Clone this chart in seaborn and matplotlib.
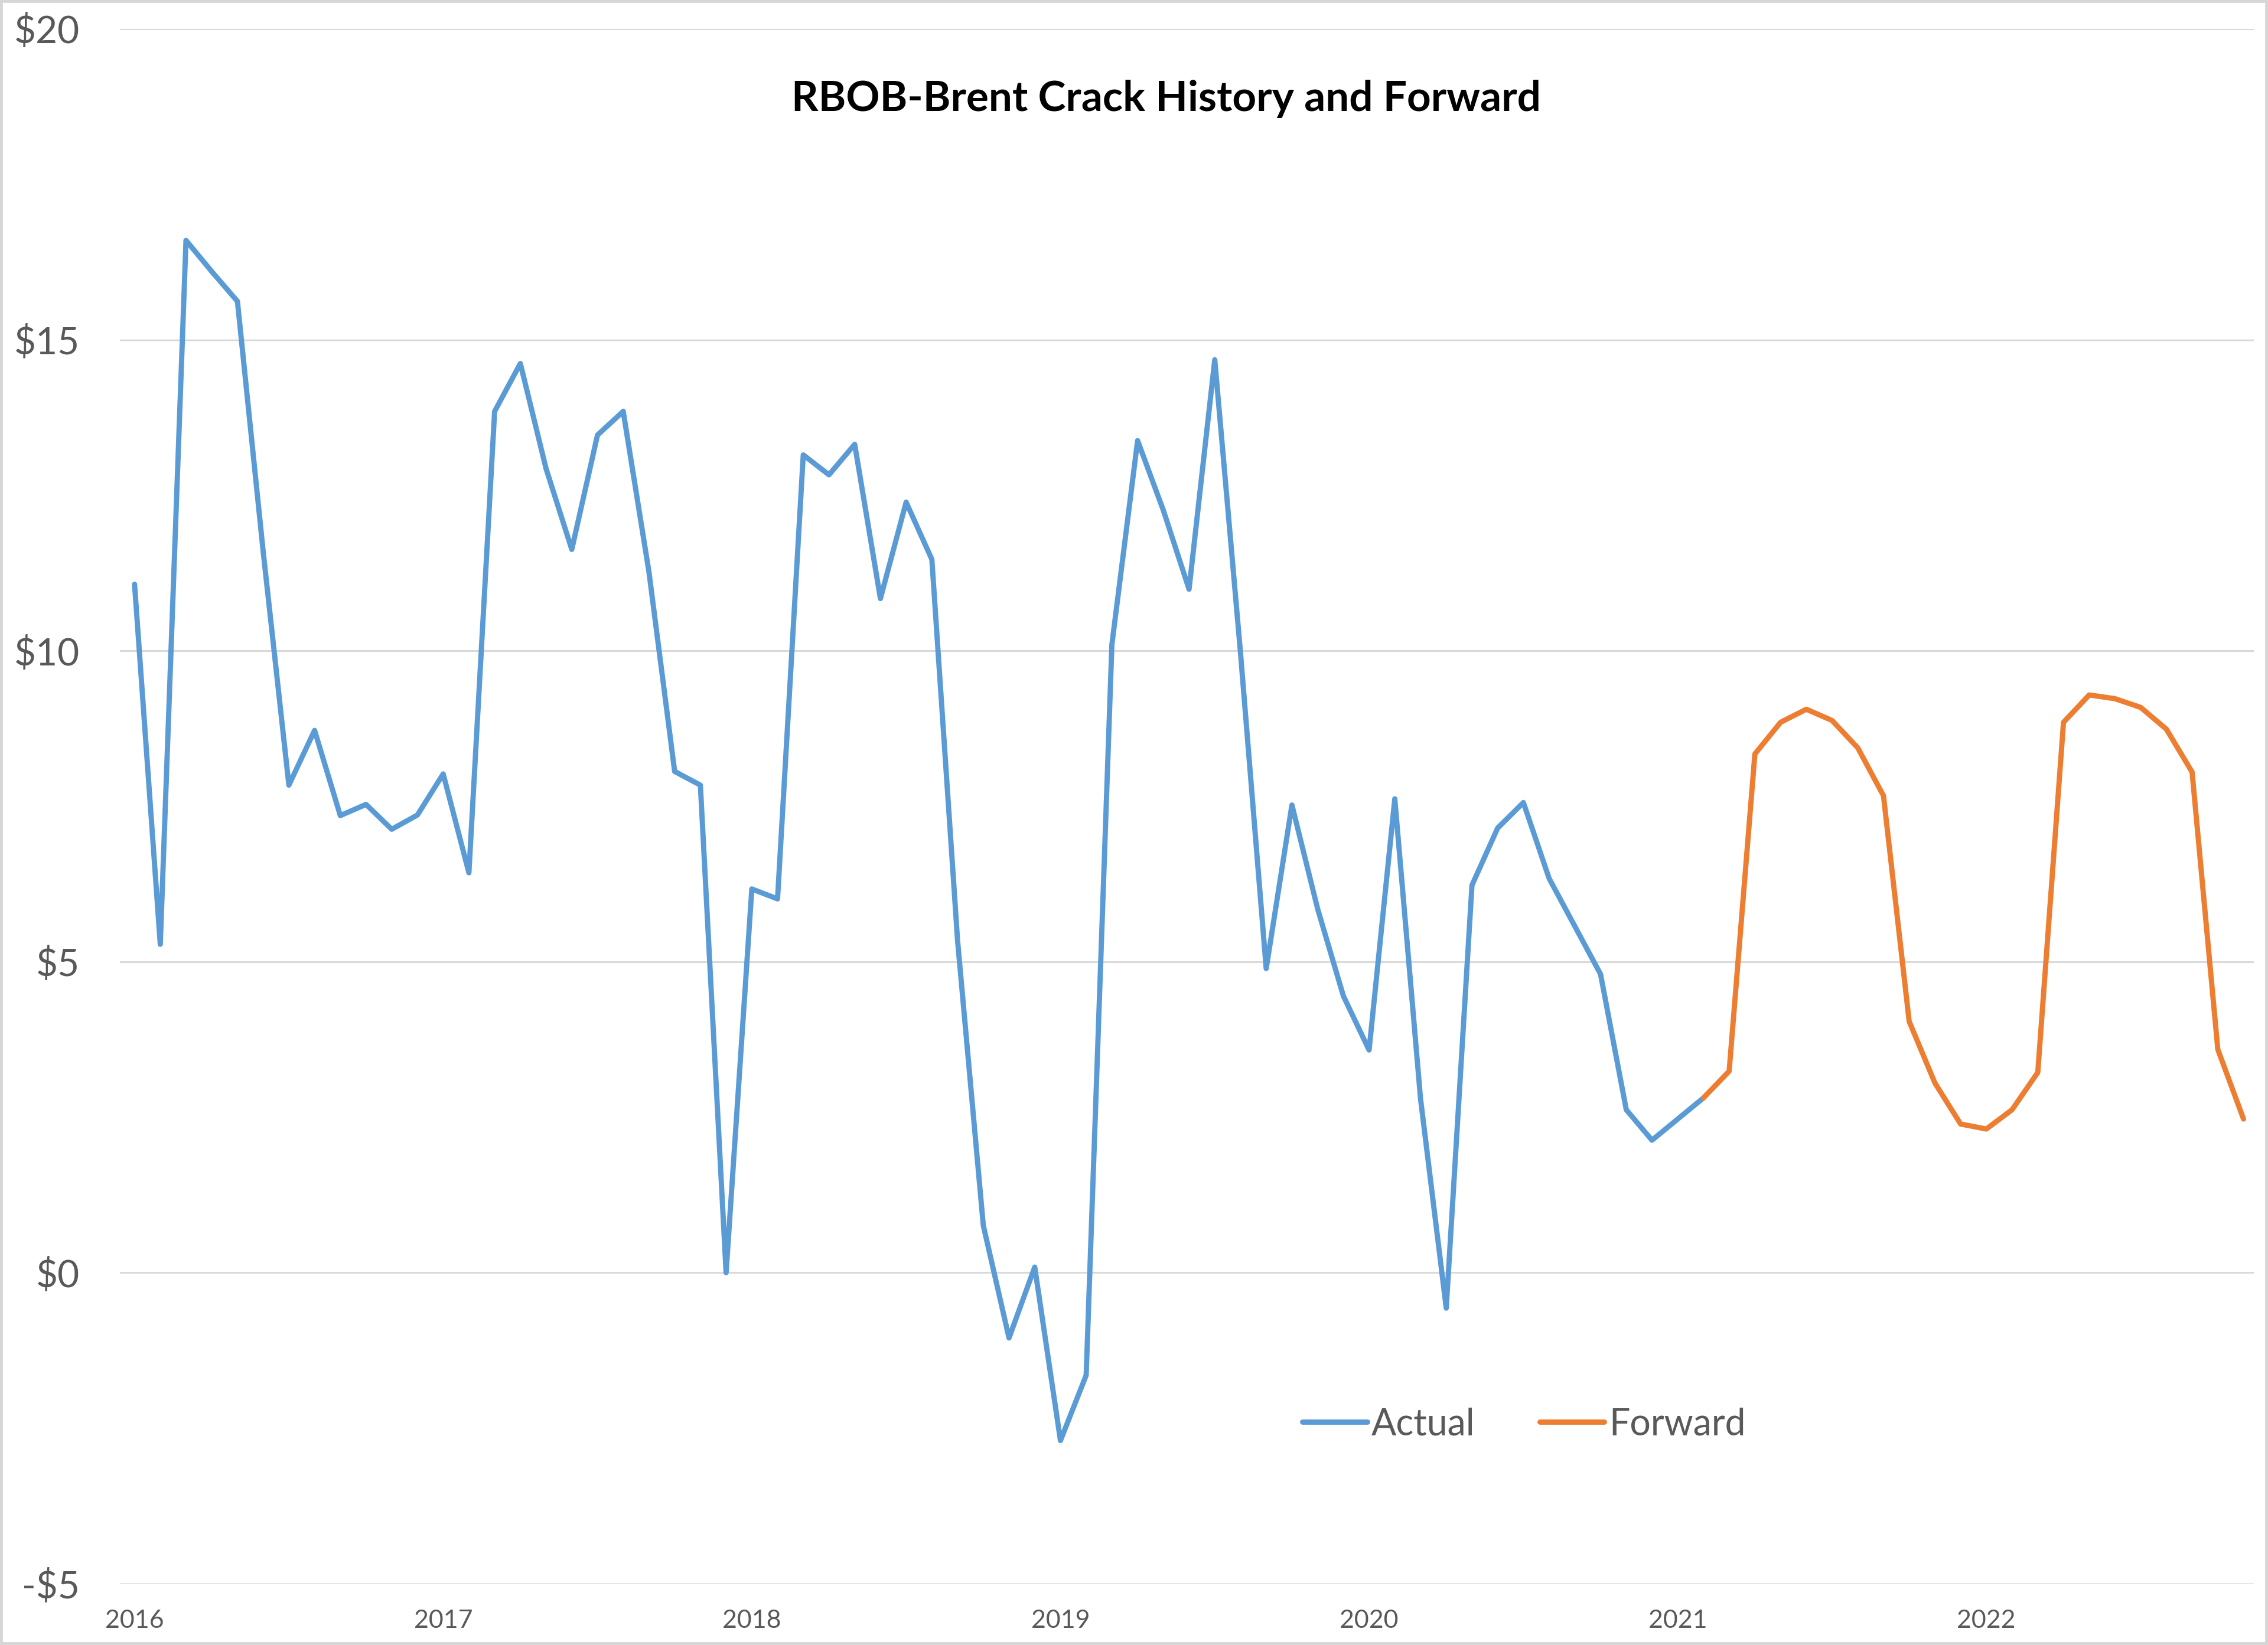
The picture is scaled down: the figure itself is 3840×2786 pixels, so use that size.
import numpy as np
import pandas as pd
import matplotlib
matplotlib.use("Agg")
import matplotlib.pyplot as plt
import seaborn as sns
from matplotlib.patches import Rectangle

# ---------------- data ----------------
years = ["2016", "2017", "2018", "2019", "2020", "2021", "2022"]
y_ticks = [-5, 0, 5, 10, 15, 20]
y_tick_labels = ["-$5", "$0", "$5", "$10", "$15", "$20"]

# monthly values, Jan 2016 .. Feb 2021
actual = [11.07, 5.28, 16.6, 16.1, 15.62, 11.6, 7.84, 8.72, 7.35, 7.53, 7.13, 7.36,
          8.02, 6.43, 13.85, 14.62, 12.93, 11.63, 13.47, 13.85, 11.27, 8.06, 7.84, 0.0,
          6.17, 6.01, 13.15, 12.83, 13.32, 10.84, 12.39, 11.47, 5.34, 0.76, -1.05, 0.09,
          -2.7, -1.65, 10.1, 13.38, 12.26, 10.99, 14.68, 9.97, 4.89, 7.52, 5.85, 4.45,
          3.58, 7.62, 2.8, -0.57, 6.23, 7.15, 7.56, 6.34, 5.57, 4.8, 2.62, 2.13,
          2.47, 2.81]
# monthly values, Feb 2021 .. Nov 2022
forward = [2.81, 3.24, 8.34, 8.85, 9.06, 8.88, 8.44, 7.67, 4.04, 3.05, 2.39,
           2.31, 2.62, 3.22, 8.85, 9.29, 9.23, 9.09, 8.74, 8.05, 3.59, 2.47]
forward_start = 61  # month offset from Jan 2016

# ---------------- build table ----------------
df = pd.concat([
    pd.DataFrame({"month": np.arange(len(actual)), "value": actual, "series": "Actual"}),
    pd.DataFrame({"month": np.arange(len(forward)) + forward_start, "value": forward,
                  "series": "Forward"}),
], ignore_index=True)

sns.set_theme(style="white")
plt.rcParams["font.family"] = ["Lato", "DejaVu Sans"]

W, H = 3840, 2786
fig = plt.figure(figsize=(W / 100, H / 100), dpi=100)
fig.patch.set_facecolor("white")

L, R, T, B = 203, 3816, 49, 2682
ax = fig.add_axes([L / W, 1 - B / H, (R - L) / W, (B - T) / H])

sns.lineplot(data=df, x="month", y="value", hue="series", estimator=None,
             palette={"Actual": "#5B9BD5", "Forward": "#ED7D31"},
             linewidth=6.4, ax=ax, sort=False)

ax.set_ylim(-5, 20)
ax.set_xlim(-0.57, 82.4)
ax.set_yticks(y_ticks)
ax.set_yticklabels(y_tick_labels)
ax.set_xticks(np.arange(len(years)) * 12)
ax.set_xticklabels(years)
ax.set_xlabel("")
ax.set_ylabel("")
ax.grid(axis="y", color="#d9d9d9", linewidth=2.2)
ax.grid(axis="x", visible=False)
ax.set_axisbelow(True)
for s in ax.spines.values():
    s.set_visible(False)
ax.tick_params(axis="y", length=0, pad=49, labelsize=46, labelcolor="#595959")
ax.tick_params(axis="x", length=0, pad=32, labelsize=31, labelcolor="#595959")

sns.move_legend(ax, loc="center", bbox_to_anchor=(0.658, 0.1025), ncol=2,
                frameon=False, title=None, fontsize=45, handlelength=1.75,
                handletextpad=0.12, columnspacing=1.75, labelcolor="#595959")

fig.text(1974 / W, 1 - 188 / H, "RBOB-Brent Crack History and Forward",
         ha="center", va="baseline", fontsize=51, fontweight="bold", color="black")

fig.patches.append(Rectangle((0, 0), 1, 1, transform=fig.transFigure, fill=False,
                             edgecolor="#d6d6d6", linewidth=7, zorder=10))

fig.savefig("out.png", dpi=100)
